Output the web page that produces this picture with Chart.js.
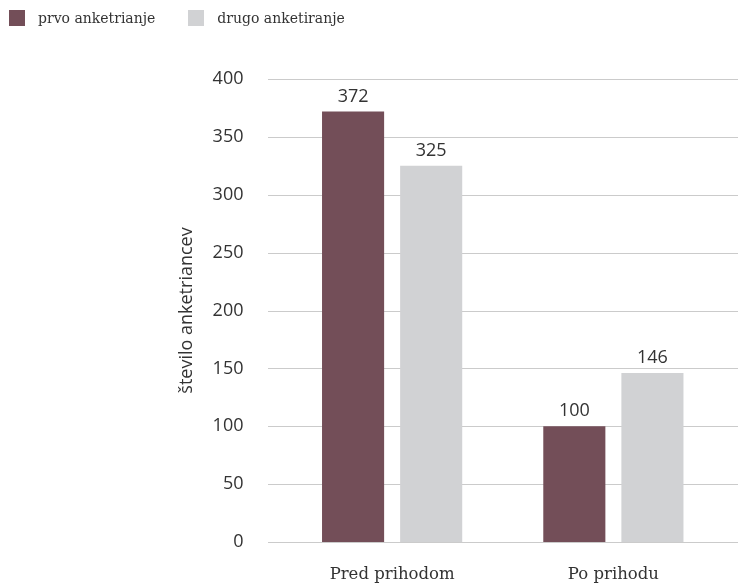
<!DOCTYPE html>
<html>
<head>
<meta charset="utf-8">
<script src="https://cdn.jsdelivr.net/npm/chart.js@4/dist/chart.umd.min.js"></script>
<style>
  html, body { margin: 0; padding: 0; background: #ffffff; overflow: hidden; }
  #wrap { position: relative; width: 738px; height: 583px; }
  #c { display: block; }
  #legend { position: absolute; left: 9px; top: 10px; display: flex; font-family: "DejaVu Serif", serif; font-size: 14px; color: #333; }
  .item { display: flex; align-items: center; margin-right: 33px; }
  .box { width: 16px; height: 16px; margin-right: 13px; }
</style>
</head>
<body>
<div id="wrap">
  <div id="legend"></div>
  <canvas id="c" width="738" height="583"></canvas>
</div>
<script>
// Categories, series and axis settings
const categories = ["Pred prihodom", "Po prihodu"];
const seriesNames = ["prvo anketrianje", "drugo anketiranje"];
const firstSurvey = [372, 100];
const secondSurvey = [325, 146];
const seriesColors = ["#734e58", "#d1d2d4"];
const yTicks = [0, 50, 100, 150, 200, 250, 300, 350, 400];
const yTitle = "število anketriancev";

const sansFont = '"Open Sans", "Noto Sans", sans-serif';
const serifFont = '"DejaVu Serif", serif';

// Horizontal grid lines spanning the full plot band
const gridPlugin = {
  id: 'bandGrid',
  beforeDatasetsDraw(chart) {
    const y = chart.scales.y;
    const ctx = chart.ctx;
    ctx.save();
    ctx.strokeStyle = '#cbcbcb';
    ctx.lineWidth = 1;
    yTicks.forEach(v => {
      const py = Math.round(y.getPixelForValue(v)) + 0.5;
      ctx.beginPath();
      ctx.moveTo(268, py);
      ctx.lineTo(738, py);
      ctx.stroke();
    });
    ctx.restore();
  }
};

// Value labels above each bar
const valueLabels = {
  id: 'valueLabels',
  afterDatasetsDraw(chart) {
    const ctx = chart.ctx;
    ctx.save();
    ctx.font = '18px ' + sansFont;
    ctx.fillStyle = '#333333';
    ctx.textAlign = 'center';
    ctx.textBaseline = 'bottom';
    chart.data.datasets.forEach((ds, i) => {
      chart.getDatasetMeta(i).data.forEach((bar, j) => {
        ctx.fillText(String(ds.data[j]), bar.x, bar.y - 6);
      });
    });
    ctx.restore();
  }
};

const chart = new Chart(document.getElementById('c'), {
  type: 'bar',
  data: {
    labels: categories,
    datasets: [
      { label: seriesNames[0], data: firstSurvey, backgroundColor: seriesColors[0] },
      { label: seriesNames[1], data: secondSurvey, backgroundColor: seriesColors[1] }
    ]
  },
  options: {
    responsive: false,
    animation: false,
    events: [],
    layout: { padding: { left: 170, right: 14, top: 79, bottom: 0 } },
    categoryPercentage: 0.706,
    barPercentage: 0.795,
    plugins: {
      legend: { display: false },
      tooltip: { enabled: false }
    },
    scales: {
      x: {
        grid: { display: false },
        border: { display: false },
        ticks: { color: '#333333', font: { family: serifFont, size: 16.5 }, padding: 15 },
        afterFit(scale) { scale.height = 41; }
      },
      y: {
        min: 0,
        max: 400,
        afterBuildTicks(scale) { scale.ticks = yTicks.map(v => ({ value: v })); },
        grid: { display: false },
        border: { display: false },
        ticks: { color: '#333333', font: { family: sansFont, size: 18 }, padding: 30 },
        title: { display: true, text: yTitle, color: '#333333', font: { family: sansFont, size: 18 }, padding: { top: 6, bottom: 0 } },
        afterFit(scale) {
          scale.width = 111.5;
          scale.paddingTop = 12;
          scale.paddingBottom = 12;
        }
      }
    }
  },
  plugins: [gridPlugin, valueLabels]
});

// Legend built from the dataset names and colours
const legend = document.getElementById('legend');
chart.data.datasets.forEach(ds => {
  const item = document.createElement('div');
  item.className = 'item';
  const box = document.createElement('span');
  box.className = 'box';
  box.style.background = ds.backgroundColor;
  const txt = document.createElement('span');
  txt.textContent = ds.label;
  item.appendChild(box);
  item.appendChild(txt);
  legend.appendChild(item);
});
</script>
</body>
</html>
